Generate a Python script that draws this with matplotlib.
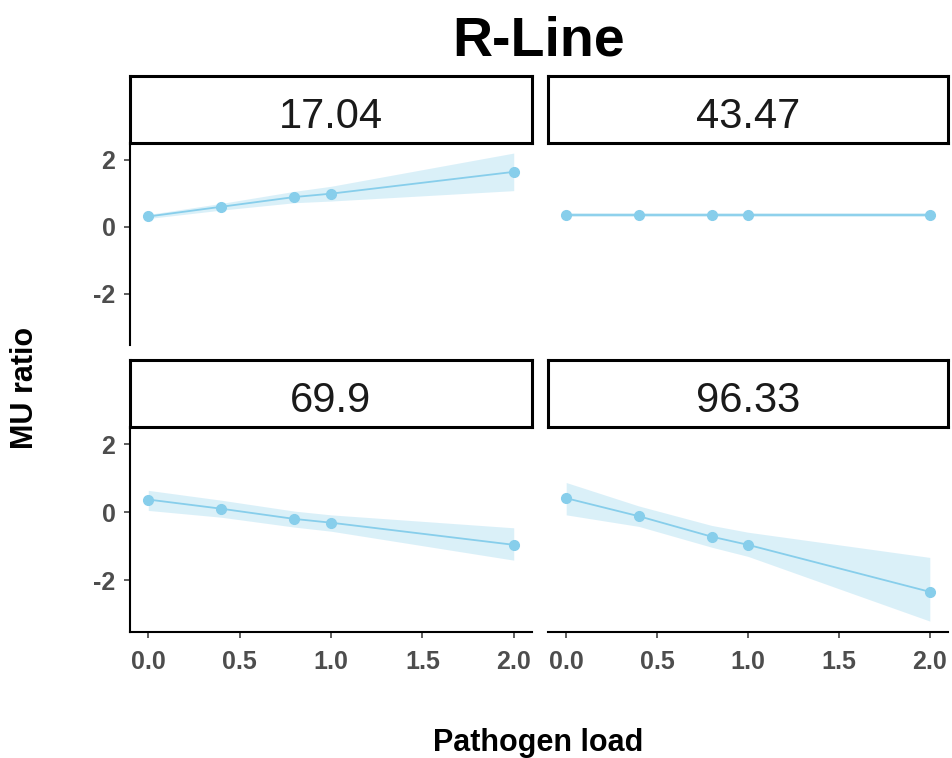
import matplotlib
matplotlib.use("Agg")
import matplotlib.pyplot as plt

plt.rcParams['font.family'] = ['Liberation Sans', 'DejaVu Sans']

title = "R-Line"
x_label = "Pathogen load"
y_label = "MU ratio"
facets = ["17.04", "43.47", "69.9", "96.33"]
x_vals = [0.0, 0.4, 0.8, 1.0, 2.0]
y_vals = {
    "17.04": [0.31, 0.60, 0.89, 0.99, 1.64],
    "43.47": [0.34, 0.34, 0.34, 0.34, 0.34],
    "69.9": [0.37, 0.10, -0.20, -0.31, -0.96],
    "96.33": [0.41, -0.12, -0.72, -0.96, -2.34],
}
lower = {
    "17.04": [0.25, 0.50, 0.72, 0.77, 1.08],
    "43.47": [0.28, 0.28, 0.28, 0.28, 0.28],
    "69.9": [0.05, -0.15, -0.44, -0.56, -1.41],
    "96.33": [-0.08, -0.42, -1.03, -1.30, -3.20],
}
upper = {
    "17.04": [0.37, 0.70, 1.06, 1.21, 2.20],
    "43.47": [0.40, 0.40, 0.40, 0.40, 0.40],
    "69.9": [0.64, 0.35, 0.03, -0.08, -0.46],
    "96.33": [0.87, 0.18, -0.39, -0.59, -1.33],
}
x_ticks = [0.0, 0.5, 1.0, 1.5, 2.0]
x_ticklabels = ["0.0", "0.5", "1.0", "1.5", "2.0"]
y_ticks = [-2, 0, 2]
y_ticklabels = ["-2", "0", "2"]

W, H = 953, 758
fig = plt.figure(figsize=(W / 100, H / 100), dpi=100)

line_col = "#87CEEB"
fill_col = "#87CEEB"
tick_col = "#4D4D4D"

cols = [(130, 532), (548, 948)]
rows = [((76, 143), (143, 345)), ((360, 427), (427, 632))]

def fx(px):
    return px / W

def fy(py):
    return 1 - py / H

for i, name in enumerate(facets):
    r, c = divmod(i, 2)
    (x0, x1) = cols[c]
    (s0, s1), (p0, p1) = rows[r]
    ax = fig.add_axes([fx(x0), fy(p1), fx(x1) - fx(x0), fy(p0) - fy(p1)])
    ax.fill_between(x_vals, lower[name], upper[name], color=fill_col, alpha=0.3, linewidth=0)
    ax.plot(x_vals, y_vals[name], color=line_col, linewidth=1.3, marker='o', markersize=7)
    ax.set_xlim(-0.1, 2.1)
    ax.set_ylim(-3.52, 2.5)
    for sp in ['top', 'right']:
        ax.spines[sp].set_visible(False)
    ax.spines['left'].set_visible(c == 0)
    ax.spines['bottom'].set_visible(r == 1)
    for sp in ['left', 'bottom']:
        ax.spines[sp].set_linewidth(1.5)
        ax.spines[sp].set_color('black')
    ax.set_xticks(x_ticks)
    ax.set_yticks(y_ticks)
    ax.tick_params(axis='both', length=4, width=1.1, color='#333333')
    ax.tick_params(axis='x', pad=9)
    ax.tick_params(axis='y', pad=6.5)
    if r == 1:
        ax.set_xticklabels(x_ticklabels, fontsize=18, fontweight='bold', color=tick_col)
    else:
        ax.tick_params(axis='x', bottom=False, labelbottom=False)
    if c == 0:
        ax.set_yticklabels(y_ticklabels, fontsize=18, fontweight='bold', color=tick_col)
    else:
        ax.tick_params(axis='y', left=False, labelleft=False)
    ax.patch.set_alpha(0)
    # strip
    sax = fig.add_axes([fx(x0), fy(s1), fx(x1) - fx(x0), fy(s0) - fy(s1)])
    sax.set_xticks([]); sax.set_yticks([])
    for sp in sax.spines.values():
        sp.set_linewidth(2.2)
        sp.set_color('black')
    base = (s1 - (s0 + 52.3)) / (s1 - s0)
    sax.text(0.5, base, name, ha='center', va='baseline', fontsize=30,
             transform=sax.transAxes, color='#1A1A1A')

fig.text(fx(539), fy(55), title, ha='center', va='baseline', fontsize=40, fontweight='bold')
fig.text(fx(538), fy(751), x_label, ha='center', va='baseline', fontsize=22, fontweight='bold')
fig.text(fx(25), fy(388), y_label, ha='center', va='center', fontsize=22, fontweight='bold', rotation=90)

fig.savefig("out.png", dpi=100)
